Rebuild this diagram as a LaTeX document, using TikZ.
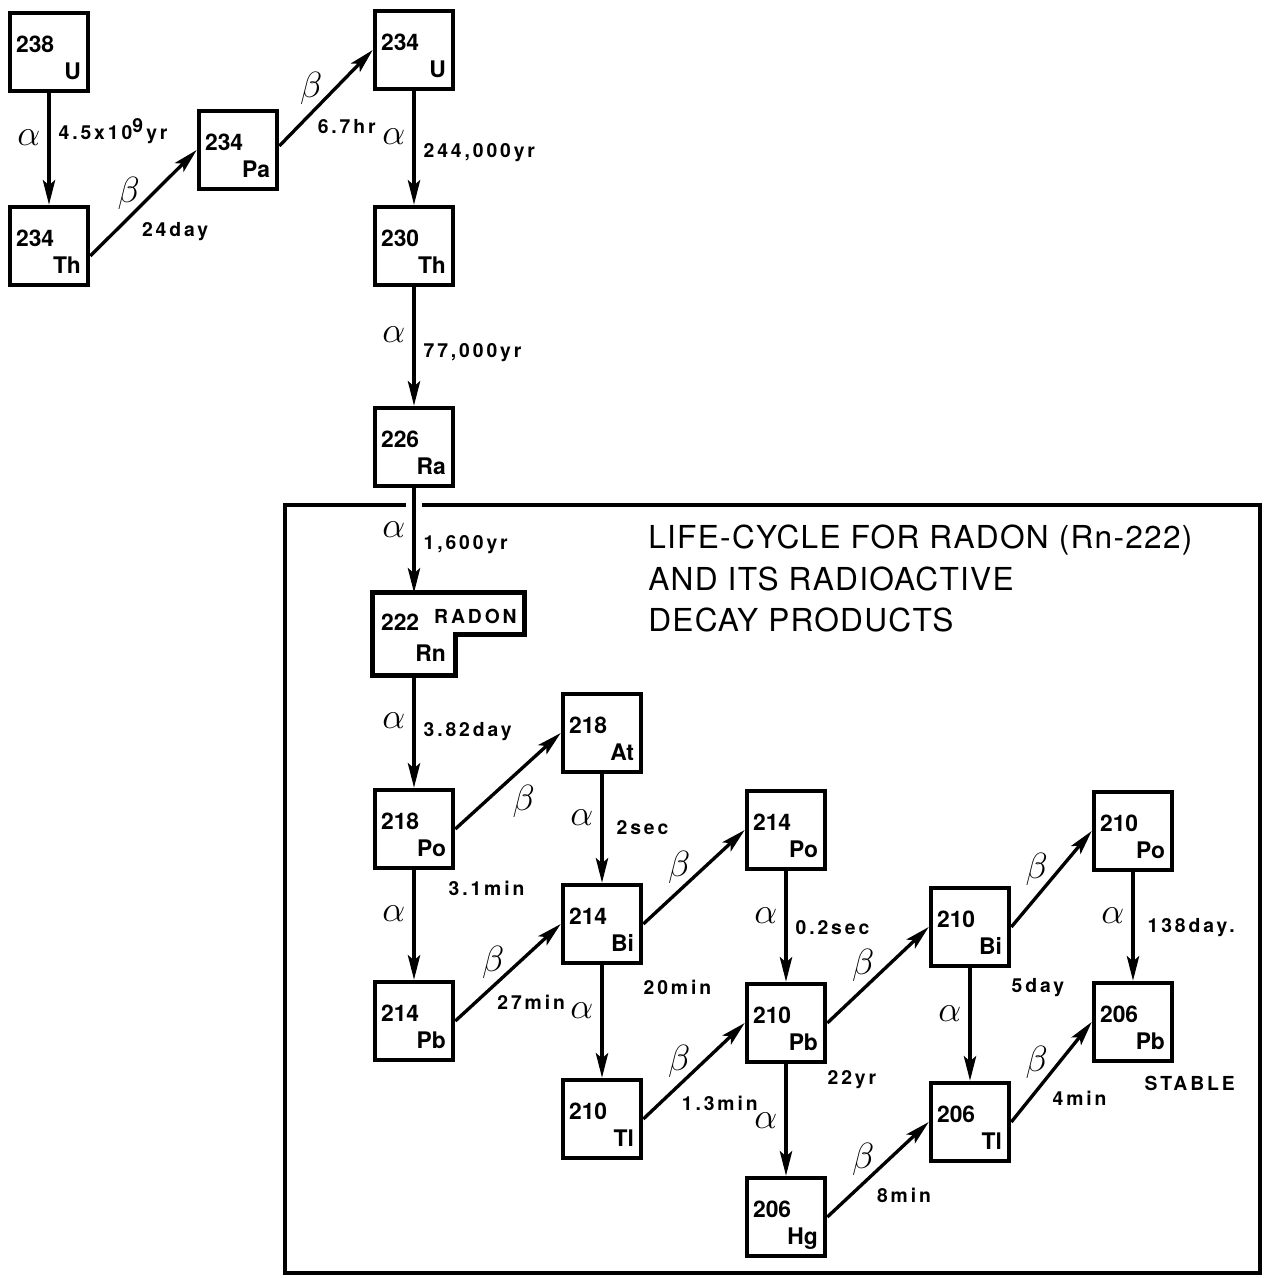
\documentclass[tikz,border=0pt]{standalone}
\usepackage{fontspec}
\setmainfont{TeX Gyre Heros}
\newfontfamily\tagfam[LetterSpace=15]{TeX Gyre Heros}
\newfontfamily\titlefam[LetterSpace=4]{TeX Gyre Heros}
\usetikzlibrary{arrows.meta}

\newcommand\boxfont{\fontsize{13}{13}\selectfont\bfseries}
\newcommand\tagfont{\fontsize{11}{11}\selectfont\tagfam\bfseries}
\newcommand\grkfont{\fontsize{20}{20}\selectfont}
\newcommand\titlefont{\fontsize{18}{23.5}\selectfont\titlefam}

\begin{document}
\begin{tikzpicture}[x=0.2mm, y=-0.2mm,
    >={Stealth[length=14pt,width=7pt,inset=3pt]},
    nuclide/.style={draw, line width=2.6pt, minimum size=1.56cm, inner sep=0pt},
    massno/.style={font=\boxfont, anchor=base west, inner sep=0pt},
    elem/.style={font=\boxfont, anchor=base east, inner sep=0pt},
    decay/.style={->, line width=1.9pt},
    alf/.style={font=\grkfont, inner sep=0pt, left=1.4mm, pos=.4},
    bet/.style={font=\grkfont, inner sep=0pt, above left=.4mm, yshift=-2mm, pos=.5},
    halfv/.style={font=\tagfont, inner sep=0pt, right=1.6mm},
    halfd/.style={font=\tagfont, inner sep=0pt, below right=1.5mm, pos=.4},
    tag/.style={font=\tagfont, inner sep=0pt}]
\useasboundingbox (0,0) rectangle (1264,1278);

% frame round the radon part
\draw[line width=2.8pt] (406,505) -- (285,505) -- (285,1273) -- (1260,1273)
  -- (1260,505) -- (422,505);
\node[font=\titlefont, align=left, anchor=north west, inner sep=0pt] (title)
  at (648,525) {LIFE-CYCLE FOR RADON (Rn-222)\\AND ITS RADIOACTIVE\\DECAY PRODUCTS};

% nuclides
\foreach \nm/\x/\y/\A/\el in {U238/49/52/238/U, Th234/49/246/234/Th,
    Pa234/238/150/234/Pa, U234/414/50/234/U, Th230/414/246/230/Th,
    Ra226/414/447/226/Ra, Po218/414/829/218/Po, At218/602/733/218/At,
    Pb214/414/1021/214/Pb, Bi214/602/924/214/Bi, Tl210/602/1119/210/Tl,
    Po214/786/830/214/Po, Pb210/786/1023/210/Pb, Hg206/786/1217/206/Hg,
    Bi210/970/927/210/Bi, Tl206/970/1122/206/Tl, Po210/1133/831/210/Po,
    Pb206/1133/1022/206/Pb}{
  \node[nuclide] (\nm) at (\x,\y) {};
  \node[massno] (\nm-A) at ([xshift=1.6mm,yshift=-8.4mm]\nm.north west) {\A};
  \node[elem] (\nm-el) at ([xshift=-1.8mm,yshift=2.8mm]\nm.south east) {\el};
}

% radon box with its tab
\node[nuclide, draw=none] (Rn222) at (414,634) {};
\draw[line width=2.6pt] (Rn222.north west) -- ++(152,0) -- ++(0,42)
  -| (Rn222.south east) -- (Rn222.south west) -- cycle;
\node[massno] (Rn222-A) at ([xshift=1.6mm,yshift=-7.6mm]Rn222.north west) {222};
\node[elem] (Rn222-el) at ([xshift=-1.8mm,yshift=2.8mm]Rn222.south east) {Rn};
\node[tag, anchor=base east] (radon) at (517,623) {RADON};

% uranium to radium
\draw[decay] (U238) -- node[alf] (a1) {$\alpha$}
  node[halfv, pos=.34] (h1) {4.5x10\raisebox{.6ex}{9}\,yr} (Th234);
\draw[decay] ([yshift=-2mm]Th234.east) -- node[bet] (b1) {$\beta$}
  node[halfd] (h2) {24day} (Pa234.west);
\draw[decay] ([yshift=.8mm]Pa234.east) -- node[bet] (b2) {$\beta$}
  node[halfd, pos=.4, below right=.6mm, xshift=-2.2mm] (h3) {6.7hr} (U234.west);
\draw[decay] (U234) -- node[alf] (a2) {$\alpha$}
  node[halfv, pos=.54] (h4) {244,000yr} (Th230);
\draw[decay] (Th230) -- node[alf] (a3) {$\alpha$}
  node[halfv, pos=.55] (h5) {77,000yr} (Ra226);
\draw[decay] (Ra226) -- node[alf] (a4) {$\alpha$}
  node[halfv, pos=.54] (h6) {1,600yr} (Rn222);

% radon and its products
\draw[decay] (Rn222) -- node[alf] (a5) {$\alpha$}
  node[halfv, pos=.5] (h7) {3.82day} (Po218);
\draw[decay] (Po218.east) -- node[font=\grkfont, inner sep=0pt, below right=.6mm, pos=.5] (b3) {$\beta$} (At218.west);
\draw[decay] (Po218) -- node[alf] (a6) {$\alpha$} (Pb214);
\node[tag, anchor=north west] (h8) at ([xshift=-1.4mm,yshift=-2mm]Po218.south east) {3.1min};
\draw[decay] (At218) -- node[alf] (a7) {$\alpha$}
  node[halfv, pos=.49, xshift=1mm] (h9) {2sec} (Bi214);
\draw[decay] (Pb214.east) -- node[bet] (b4) {$\beta$}
  node[halfd, pos=.36, xshift=-1mm] (h10) {27min} (Bi214.west);
\draw[decay] (Bi214.east) -- node[bet] (b5) {$\beta$} (Po214.west);
\draw[decay] (Bi214) -- node[alf] (a8) {$\alpha$} (Tl210);
\node[tag, anchor=north west] (h11) at ([xshift=0mm,yshift=-2.8mm]Bi214.south east) {20min};
\draw[decay] (Po214) -- node[alf] (a9) {$\alpha$}
  node[halfv, pos=.51] (h12) {0.2sec} (Pb210);
\draw[decay] (Tl210.east) -- node[bet] (b6) {$\beta$}
  node[halfd, pos=.33, xshift=-.8mm] (h13) {1.3min} (Pb210.west);
\draw[decay] (Pb210.east) -- node[bet] (b7) {$\beta$} (Bi210.west);
\draw[decay] (Pb210) -- node[alf, pos=.51] (a10) {$\alpha$} (Hg206);
\node[tag, anchor=north west] (h14) at ([xshift=0mm,yshift=-1.2mm]Pb210.south east) {22yr};
\draw[decay] (Hg206.east) -- node[bet] (b8) {$\beta$}
  node[halfd] (h15) {8min} (Tl206.west);
\draw[decay] (Bi210.east) -- node[bet] (b9) {$\beta$} (Po210.west);
\draw[decay] (Bi210) -- node[alf] (a11) {$\alpha$} (Tl206);
\node[tag, anchor=north west] (h16) at ([xshift=0mm,yshift=-2mm]Bi210.south east) {5day};
\draw[decay] (Po210) -- node[alf] (a12) {$\alpha$}
  node[halfv, pos=.51, xshift=1mm] (h17) {138day.} (Pb206);
\draw[decay] (Tl206.east) -- node[bet] (b10) {$\beta$}
  node[halfd] (h18) {4min} (Pb206.west);
\node[tag, anchor=north west] (stable) at ([xshift=-6mm,yshift=-2.6mm]Pb206.south east) {STABLE};

\end{tikzpicture}
\end{document}
